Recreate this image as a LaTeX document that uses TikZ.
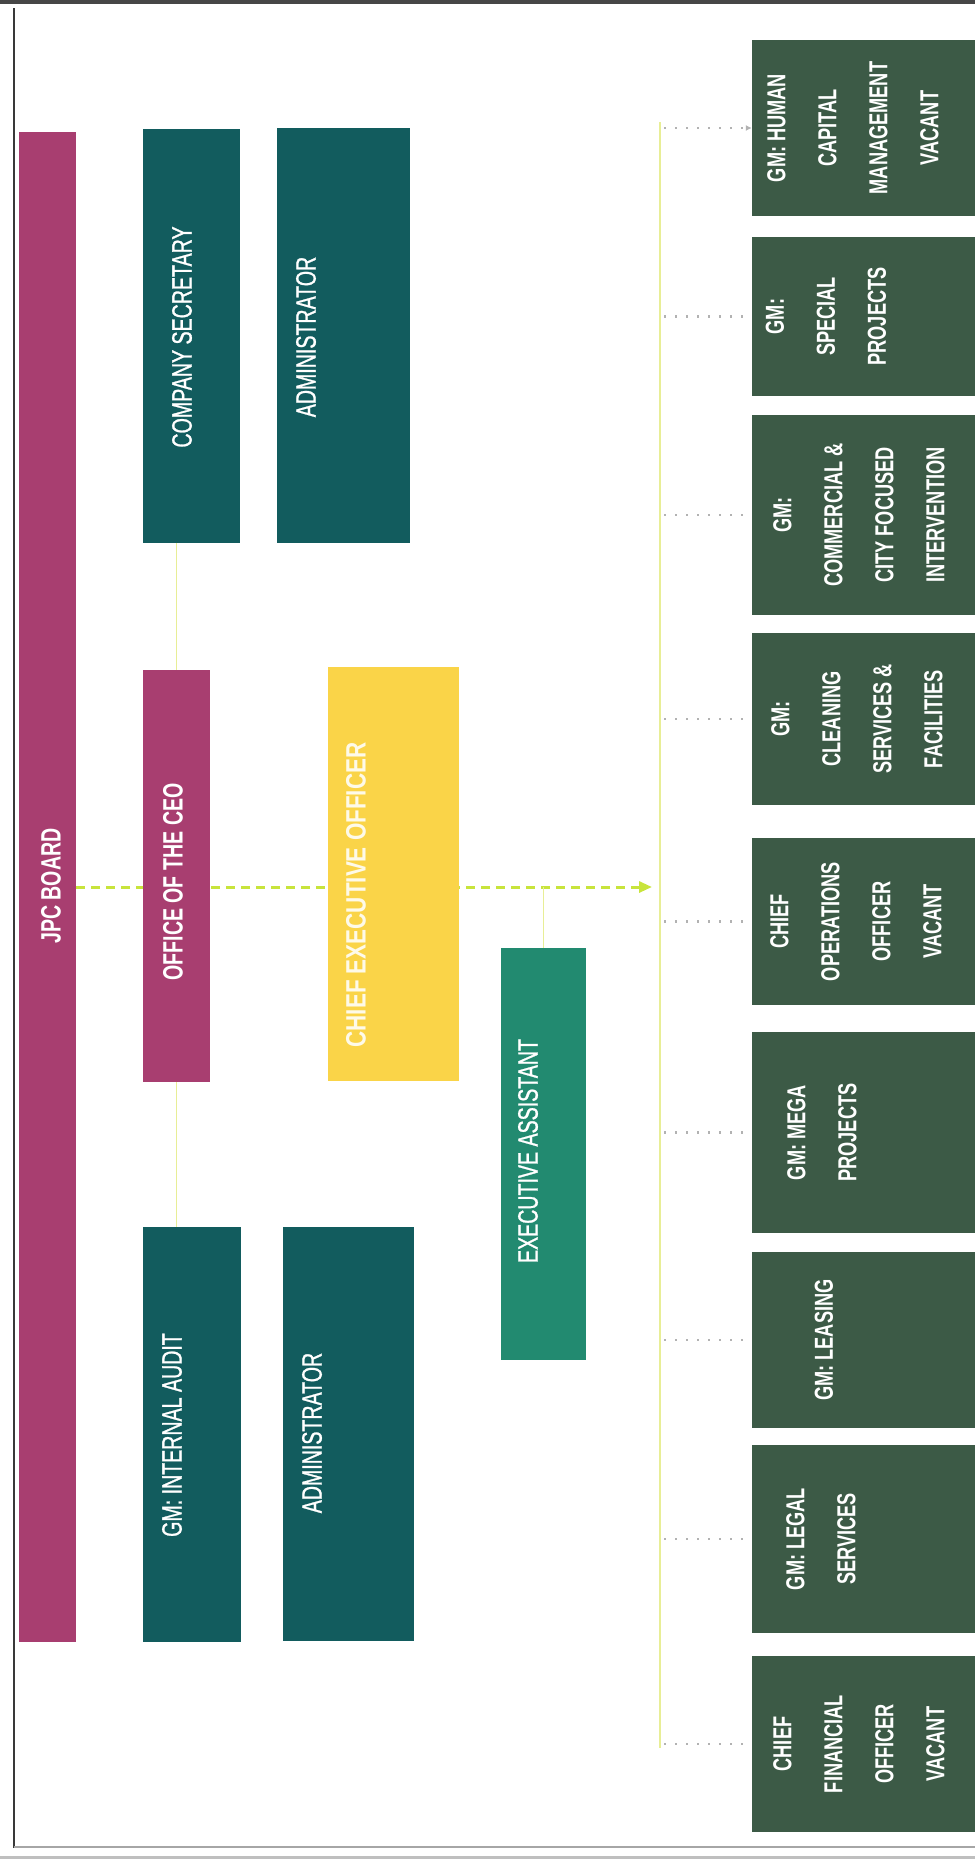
\documentclass[tikz,border=0pt]{standalone}
\usepackage{fontspec}
\setmainfont{Liberation Sans}[FakeStretch=0.7]
\newfontfamily\wideface{Liberation Sans}[FakeStretch=0.8]
\newfontfamily\mediumface{Liberation Sans}[FakeStretch=0.7, FakeBold=0.9]
\usetikzlibrary{positioning,backgrounds,arrows.meta}

\definecolor{boardpink}{RGB}{168,62,112}
\definecolor{deepteal}{RGB}{18,92,94}
\definecolor{ceoyellow}{RGB}{250,212,72}
\definecolor{assistgreen}{RGB}{34,138,112}
\definecolor{unitgreen}{RGB}{60,90,70}
\definecolor{dashgreen}{RGB}{200,228,60}
\definecolor{linkgreen}{RGB}{232,238,150}

\tikzset{
  block/.style={rectangle, inner sep=0pt, draw=none},
  lefttext/.style={rotate=90, text=white, inner sep=0pt, font=\fontsize{28}{30}\selectfont\mediumface},
  boldtext/.style={lefttext, font=\fontsize{28}{30}\selectfont\bfseries},
  unittext/.style={rotate=90, text=white, inner sep=0pt, align=center, font=\fontsize{26}{51}\selectfont\bfseries},
  link/.style={draw=linkgreen, line width=1.4pt},
  dotlink/.style={draw=gray!60, line width=2.2pt, dash pattern=on 2pt off 9pt},
}

\begin{document}
\begin{tikzpicture}[x=1pt, y=-1pt]
\useasboundingbox (0,0) rectangle (975,1863);

% page frame
\fill[gray!55!black] (0,0) rectangle (975,4);
\draw[gray!45!black, line width=2.5pt] (14,8) -- (14,1848);
\draw[gray!70, line width=1.5pt] (14,1847) -- (975,1847);
\draw[gray!50, line width=3pt] (0,1857) -- (975,1857);

% Board and office
\node[block, fill=boardpink, minimum width=57pt, minimum height=1510pt] (board) at (47.5,887) {};
\node[boldtext] (board-txt) at (51,886) {JPC BOARD};
\node[block, fill=boardpink, minimum width=67pt, minimum height=412pt] (office) at (176.5,876) {};
\node[boldtext] (office-txt) at (173,882) {OFFICE OF THE CEO};

% Support
\node[block, fill=deepteal, minimum width=97pt, minimum height=414pt] (cosec) at (191.5,336) {};
\node[lefttext] (cosec-txt) at (182,337) {COMPANY SECRETARY};
\node[block, fill=deepteal, minimum width=133pt, minimum height=415pt] (admtop) at (343.5,335.5) {};
\node[lefttext] (admtop-txt) at (306,337) {ADMINISTRATOR};
\node[block, fill=deepteal, minimum width=98pt, minimum height=415pt] (audit) at (192,1434.5) {};
\node[lefttext] (audit-txt) at (172,1435) {GM: INTERNAL AUDIT};
\node[block, fill=deepteal, minimum width=131pt, minimum height=414pt] (admbot) at (348.5,1434) {};
\node[lefttext] (admbot-txt) at (312,1433) {ADMINISTRATOR};

% CEO
\node[block, fill=ceoyellow, minimum width=131pt, minimum height=414pt] (ceo) at (393.5,874) {};
\node[boldtext, font=\fontsize{28}{30}\selectfont\wideface\bfseries, text=white!88!ceoyellow] (ceo-txt) at (356,895) {CHIEF EXECUTIVE OFFICER};
\node[block, fill=assistgreen, minimum width=85pt, minimum height=412pt] (assist) at (543.5,1154) {};
\node[lefttext] (assist-txt) at (528,1151) {EXECUTIVE ASSISTANT};

% Units
\foreach \n/\ya/\yb/\tx/\txt in {
    hcm/40/216/853/{GM: HUMAN\\CAPITAL\\MANAGEMENT\\VACANT},
    spec/237/396/826/{GM:\\SPECIAL\\PROJECTS},
    comm/415/615/859/{GM:\\COMMERCIAL \&\\CITY FOCUSED\\INTERVENTION},
    clean/633/805/857/{GM:\\CLEANING\\SERVICES \&\\FACILITIES},
    coo/838/1005/856/{CHIEF\\OPERATIONS\\OFFICER\\VACANT},
    mega/1032/1233/822/{GM: MEGA\\PROJECTS},
    lease/1252/1428/824/{GM: LEASING},
    legal/1445/1633/821/{GM: LEGAL\\SERVICES},
    cfo/1656/1832/859/{CHIEF\\FINANCIAL\\OFFICER\\VACANT}}{
  \pgfmathsetmacro\cy{(\ya+\yb)/2}
  \pgfmathsetmacro\h{\yb-\ya}
  \node[block, fill=unitgreen, minimum width=223pt, minimum height=\h pt] (\n) at (863.5,\cy) {};
  \node[unittext] (\n-txt) at (\tx,\cy) {\txt};
}

% Connections
\coordinate (bustop) at (660,122);
\coordinate (busbot) at (660,1748);
\begin{scope}[on background layer]
\draw[dashgreen, line width=3pt, dash pattern=on 9pt off 6pt, -{Triangle[length=13pt, width=11pt]}, shorten >=8pt]
      (board.east) -- (board.east -| bustop);
\draw[link] (office.north) -- (office.north |- cosec.south);
\draw[link] (office.south) -- (office.south |- audit.north);
\draw[link] (assist.north) -- (assist.north |- board.east);
\draw[link] (bustop) -- (busbot);
\end{scope}
\draw[dotlink, -{Latex[length=6pt, width=6pt]}, shorten <=4pt] (hcm.west -| bustop) -- (hcm.west);
\foreach \n in {spec, comm, clean, coo, mega, lease, legal, cfo}
  \draw[dotlink, shorten <=4pt] (\n.west -| bustop) -- (\n.west);

\end{tikzpicture}
\end{document}
